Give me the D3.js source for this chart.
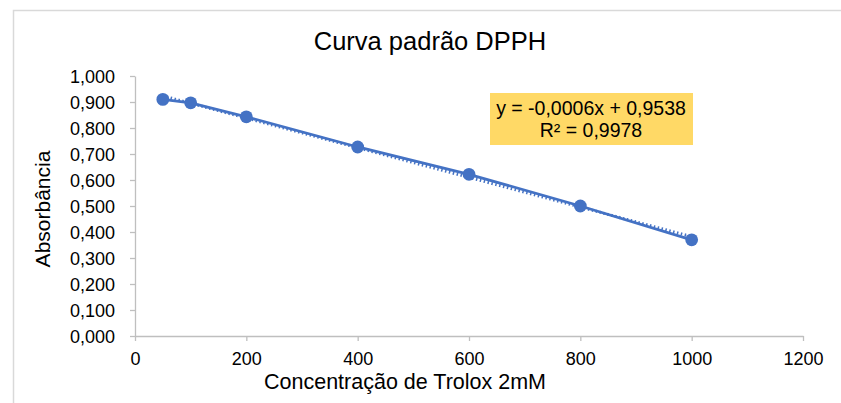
<!DOCTYPE html>
<html><head><meta charset="utf-8">
<script src="https://cdn.jsdelivr.net/npm/d3@7"></script>
<style>body{margin:0;background:#fff}svg{display:block;font-family:"Liberation Sans",Arial,sans-serif}</style>
</head><body><svg id="c" width="841" height="403"></svg>
<script>
const concentrations = [50, 100, 200, 400, 600, 800, 1000];
const absorbance = [0.910, 0.897, 0.843, 0.727, 0.622, 0.500, 0.370];
const xTicks = [0, 200, 400, 600, 800, 1000, 1200];
const yTicks = [0, 0.1, 0.2, 0.3, 0.4, 0.5, 0.6, 0.7, 0.8, 0.9, 1.0];
const equationLines = ["y = -0,0006x + 0,9538", "R² = 0,9978"];
const title = "Curva padrão DPPH";
const xLabel = "Concentração de Trolox 2mM";
const yLabel = "Absorbância";

const svg = d3.select("#c");
const blue = "#4472C4", axisCol = "#bfbfbf";
svg.append("path").attr("d","M13.5,403 V10.5 H841").attr("fill","none").attr("stroke","#d9d9d9").attr("stroke-width",1.5);

const x = d3.scaleLinear().domain([0,1200]).range([135,803]);
const y = d3.scaleLinear().domain([0,1]).range([336,76]);
const fmt = d => d3.format(".3f")(d).replace(".", ",");

const gx = svg.append("g").attr("transform","translate(0,336)")
  .call(d3.axisBottom(x).tickValues(xTicks).tickSize(5).tickSizeOuter(0).tickFormat(d=>d));
const gy = svg.append("g").attr("transform","translate(135,0)")
  .call(d3.axisLeft(y).tickValues(yTicks).tickSize(5).tickSizeOuter(0).tickFormat(fmt));
[gx,gy].forEach(g=>{
  g.selectAll("path,line").attr("stroke",axisCol).attr("stroke-width",1.3);
  g.selectAll("text").attr("fill","#000").style("font-size","18px").style("font-family","Liberation Sans, Arial, sans-serif");
});
gx.selectAll("text").attr("dy",null).attr("y",29);
gy.selectAll("text").attr("x",-20).attr("dy","0.36em");

const mx = d3.mean(concentrations), my = d3.mean(absorbance);
const slope = d3.sum(concentrations.map((c,i)=>(c-mx)*(absorbance[i]-my))) / d3.sum(concentrations.map(c=>(c-mx)*(c-mx)));
const icpt = my - slope*mx;
const tx = d3.extent(concentrations);
svg.append("line")
  .attr("x1",x(tx[0])).attr("y1",y(icpt+slope*tx[0]))
  .attr("x2",x(tx[1])).attr("y2",y(icpt+slope*tx[1]))
  .attr("stroke",blue).attr("stroke-width",3).attr("stroke-dasharray","1.5,2.5");

const pts = concentrations.map((c,i)=>[c,absorbance[i]]);
svg.append("path").datum(pts)
  .attr("d", d3.line().x(d=>x(d[0])).y(d=>y(d[1])))
  .attr("fill","none").attr("stroke",blue).attr("stroke-width",2.8);
svg.append("g").selectAll("circle").data(pts).join("circle")
  .attr("cx",d=>x(d[0])).attr("cy",d=>y(d[1])).attr("r",6.4).attr("fill",blue);

svg.append("rect").attr("x",490).attr("y",93).attr("width",203).attr("height",52).attr("fill","#FFD966");
svg.append("g").selectAll("text").data(equationLines).join("text")
  .attr("x",591).attr("y",(d,i)=>115+i*22).attr("text-anchor","middle")
  .style("font-size","19.5px").attr("fill","#000").text(d=>d);

svg.append("text").attr("x",430).attr("y",50).attr("text-anchor","middle")
  .style("font-size","25.5px").attr("fill","#000").text(title);
svg.append("text").attr("x",405).attr("y",389).attr("text-anchor","middle")
  .style("font-size","21.5px").attr("fill","#000").text(xLabel);
svg.append("text").attr("transform","translate(50,209) rotate(-90)").attr("text-anchor","middle")
  .style("font-size","21px").attr("fill","#000").text(yLabel);
</script></body></html>
